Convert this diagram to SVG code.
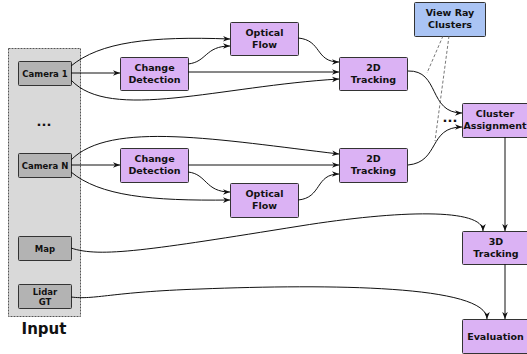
<svg xmlns="http://www.w3.org/2000/svg" width="527" height="354" viewBox="0 0 527 354">
<style>
text{font-family:"DejaVu Sans","Liberation Sans",sans-serif;font-weight:bold;fill:#111;text-anchor:middle}
.g rect{fill:#b3b3b3;stroke:#333;stroke-width:1}
.g text{font-size:8.5px}
.p rect{fill:#dbb2f4;stroke:#333;stroke-width:1}
.p text{font-size:9.5px}
.b rect{fill:#aac4f4;stroke:#333;stroke-width:1}
.b text{font-size:9.5px}
#conn path{fill:none;stroke:#111;stroke-width:1;marker-end:url(#ah)}
#conn path.d{stroke:#555;stroke-width:0.8;stroke-dasharray:3,2;marker-end:none}
</style>
<defs>
<marker id="ah" viewBox="0 0 10 10" refX="10" refY="5" markerWidth="7" markerHeight="7" markerUnits="userSpaceOnUse" orient="auto">
<path d="M0,1 L10,5 L0,9 L3,5 Z" fill="#111"/>
</marker>
</defs>
<rect width="527" height="354" fill="#fff"/>
<g id="input">
<rect x="8.5" y="48.5" width="72" height="268" fill="#d9d9d9" stroke="#555" stroke-width="1" stroke-dasharray="2,1"/>
<text x="44" y="334" style="font-size:15px">Input</text>
<text x="44" y="126" style="font-size:13px">...</text>
</g>
<g id="camera1" class="g"><rect x="18.5" y="61.5" width="53" height="24" rx="1"/><text x="45" y="76.5">Camera 1</text></g>
<g id="cameraN" class="g"><rect x="18.5" y="153.5" width="53" height="24" rx="1"/><text x="45" y="168.5">Camera N</text></g>
<g id="map" class="g"><rect x="18.5" y="236.5" width="53" height="24" rx="1"/><text x="45" y="251.5">Map</text></g>
<g id="lidar" class="g"><rect x="18.5" y="284.5" width="53" height="24" rx="1"/><text x="45" y="294.5">Lidar</text><text x="45" y="305">GT</text></g>
<g id="cd1" class="p"><rect x="120.5" y="57.5" width="68" height="33" rx="1"/><text x="154.5" y="71">Change</text><text x="154.5" y="82.5">Detection</text></g>
<g id="of1" class="p"><rect x="230.5" y="22.5" width="68" height="33" rx="1"/><text x="264.5" y="36">Optical</text><text x="264.5" y="47.5">Flow</text></g>
<g id="cd2" class="p"><rect x="120.5" y="148.5" width="68" height="34" rx="1"/><text x="154.5" y="162">Change</text><text x="154.5" y="173.5">Detection</text></g>
<g id="of2" class="p"><rect x="230.5" y="183.5" width="68" height="34" rx="1"/><text x="264.5" y="197">Optical</text><text x="264.5" y="208.5">Flow</text></g>
<g id="t2d1" class="p"><rect x="339.5" y="57.5" width="68" height="33" rx="1"/><text x="373.5" y="71">2D</text><text x="373.5" y="82.5">Tracking</text></g>
<g id="t2d2" class="p"><rect x="339.5" y="148.5" width="68" height="34" rx="1"/><text x="373.5" y="162">2D</text><text x="373.5" y="173.5">Tracking</text></g>
<g id="vrc" class="b"><rect x="414.5" y="2.5" width="71" height="34" rx="1"/><text x="450" y="16">View Ray</text><text x="450" y="27.5">Clusters</text></g>
<g id="ca" class="p"><rect x="462.5" y="103.5" width="70" height="34" rx="1"/><text x="495" y="117">Cluster</text><text x="495" y="128.5">Assignment</text></g>
<g id="t3d" class="p"><rect x="462.5" y="231.5" width="70" height="33" rx="1"/><text x="496" y="245">3D</text><text x="496" y="256.5">Tracking</text></g>
<g id="eval" class="p"><rect x="462.5" y="319.5" width="70" height="34" rx="1"/><text x="495.5" y="339.5">Evaluation</text></g>
<g id="conn">
<path d="M71,73 L120,73"/>
<path d="M71,66 C100,42 150,36 230,39"/>
<path d="M188,64 C207,62 205,46 230,46"/>
<path d="M188,72 L339,72"/>
<path d="M71,80 C110,122 220,86 339,79"/>
<path d="M298,38 C322,40 315,62 339,62"/>
<path d="M71,165 L120,165"/>
<path d="M71,160 C110,120 220,140 339,154"/>
<path d="M188,172 C207,174 205,192 230,192"/>
<path d="M71,172 C100,196 150,201 230,200"/>
<path d="M188,165 L339,165"/>
<path d="M298,200 C322,198 315,174 339,174"/>
<path d="M408,71 C440,70 428,113 462,113"/>
<path d="M408,165 C440,162 428,127 462,127"/>
<path d="M505,137 L505,231"/>
<path d="M71,248 C100,258 150,250 300,226 C400,210 483,208 483,231"/>
<path d="M505,264 L505,319"/>
<path d="M71,297 C95,300 110,292 200,289 C330,284 487,285 487,319"/>
<path class="d" d="M443,36 L427,73"/>
<path class="d" d="M449,36 L435,141"/>
</g>
<text x="450" y="122" style="font-size:13px">...</text>
</svg>
